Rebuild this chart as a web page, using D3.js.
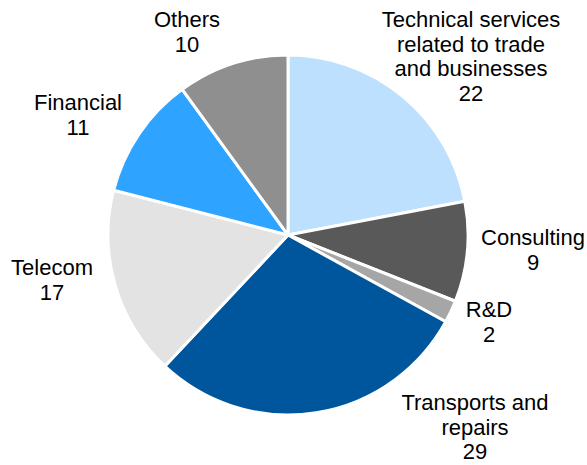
<!DOCTYPE html>
<html>
<head>
<meta charset="utf-8">
<script src="https://cdn.jsdelivr.net/npm/d3@7"></script>
<style>
  body { margin: 0; background: #fff; }
  text { font-family: "Liberation Sans", Arial, sans-serif; fill: #000; }
</style>
</head>
<body>
<div id="chart"></div>
<script>
var width = 587, height = 465;

// data
var categories = ["Technical services related to trade and businesses", "Consulting", "R&D",
                  "Transports and repairs", "Telecom", "Financial", "Others"];
var values = [22, 9, 2, 29, 17, 11, 10];
var colors = ["#bde0fe", "#595959", "#a6a6a6", "#00569c", "#e3e3e3", "#2ea3ff", "#8f8f8f"];
// label lines as in the picture
var labelLines = [
  ["Technical services", "related to trade", "and businesses"],
  ["Consulting"], ["R&D"], ["Transports and", "repairs"],
  ["Telecom"], ["Financial"], ["Others"]
];
// label anchor positions (center x, first baseline y)
var labelPos = [[471, 27], [533, 245], [489, 317], [475, 410], [52, 275], [78, 110], [187, 27]];

var cx = 288, cy = 235, radius = 180;

var svg = d3.select("#chart")
  .append("svg")
    .attr("width", width)
    .attr("height", height);

var pie = d3.pie().sort(null).value(function(d) { return d; });
var arc = d3.arc().innerRadius(0).outerRadius(radius);

var g = svg.append("g")
  .attr("transform", "translate(" + cx + "," + cy + ")");

g.selectAll("path")
  .data(pie(values))
  .enter()
  .append("path")
    .attr("d", arc)
    .attr("fill", function(d, i) { return colors[i]; })
    .attr("stroke", "#fff")
    .attr("stroke-width", 3)
    .attr("stroke-linejoin", "round");

// labels
var lineH = 24.5;
var labels = svg.selectAll("text.lbl")
  .data(categories)
  .enter()
  .append("text")
    .attr("class", "lbl")
    .attr("text-anchor", "middle")
    .style("font-size", "22px");

labels.each(function(d, i) {
  var t = d3.select(this);
  var lines = labelLines[i].concat([String(values[i])]);
  lines.forEach(function(s, j) {
    t.append("tspan")
      .attr("x", labelPos[i][0])
      .attr("y", labelPos[i][1] + j * lineH)
      .text(s);
  });
});
</script>
</body>
</html>
